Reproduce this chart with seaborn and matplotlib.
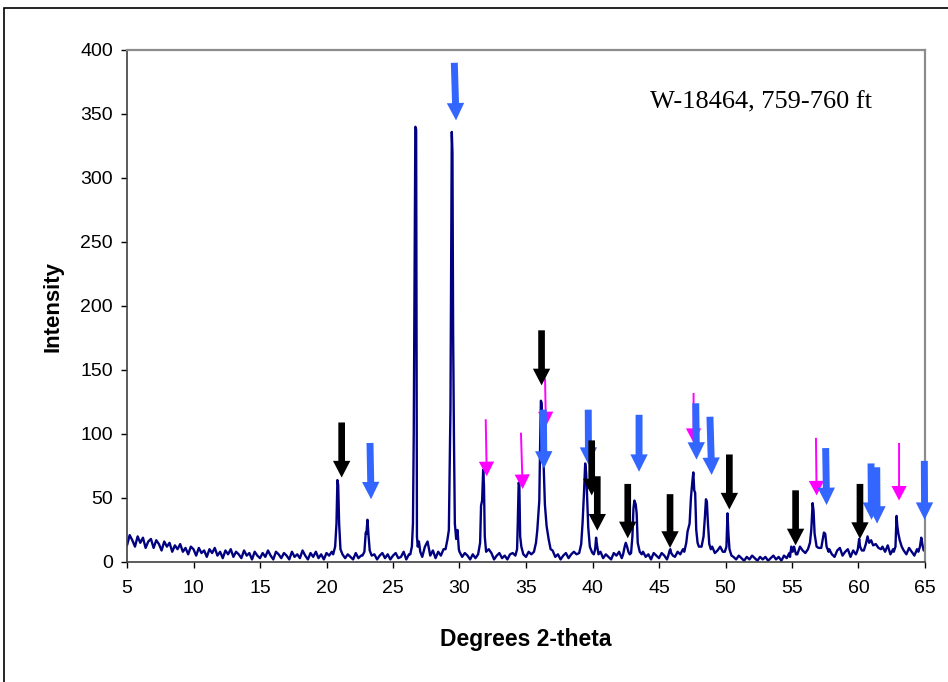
import numpy as np
import matplotlib
matplotlib.use("Agg")
import matplotlib.pyplot as plt
import seaborn as sns
from matplotlib.patches import Rectangle

# ---- diffraction scan -------------------------------------------------------
# background counts, sampled every 0.2 degrees 2-theta from 5 to 65
background_2theta = np.round(np.arange(5.0, 65.0001, 0.2), 1)
background_counts = [
    13, 21, 17, 12, 20, 15, 19, 11, 16, 18,   # 5.0 - 6.8
    11, 17, 14, 9, 16, 12, 15, 8, 13, 10,     # 7.0 - 8.8
    14, 8, 11, 6, 12, 10, 5, 11, 7, 9,        # 9.0 - 10.8
    4, 10, 7, 11, 5, 8, 3, 9, 6, 10,          # 11.0 - 12.8
    4, 8, 6, 3, 9, 5, 7, 2, 8, 5,             # 13.0 - 14.8
    3, 7, 4, 9, 5, 2, 8, 6, 3, 7,             # 15.0 - 16.8
    5, 2, 8, 4, 6, 3, 9, 5, 2, 7,             # 17.0 - 18.8
    4, 8, 3, 6, 2, 7, 5, 8, 6, 8,             # 19.0 - 20.8
    7, 7, 3, 6, 4, 2, 7, 3, 5, 5,             # 21.0 - 22.8
    20, 15, 9, 6, 2, 5, 7, 3, 6, 2,           # 23.0 - 24.8
    5, 7, 3, 4, 8, 2, 6, 8, 10, 20,           # 25.0 - 26.8
    8, 4, 12, 16, 5, 9, 3, 8, 5, 10,          # 27.0 - 28.8
    10, 50, 200, 100, 20, 8, 4, 7, 5, 2,      # 29.0 - 30.8
    6, 3, 7, 5, 40, 40, 10, 7, 2, 5,          # 31.0 - 32.8
    7, 3, 5, 2, 6, 7, 10, 40, 15, 6,          # 33.0 - 34.8
    4, 8, 6, 9, 4, 10, 10, 40, 60, 20,        # 35.0 - 36.8
    9, 4, 6, 2, 5, 7, 3, 6, 8, 6,             # 37.0 - 38.8
    7, 20, 50, 40, 10, 7, 10, 10, 8, 3,       # 39.0 - 40.8
    6, 4, 2, 7, 5, 8, 3, 6, 12, 6,            # 41.0 - 42.8
    20, 40, 40, 20, 8, 4, 6, 2, 7, 5,         # 43.0 - 44.8
    3, 7, 5, 2, 9, 6, 4, 8, 6, 10,            # 45.0 - 46.8
    12, 24, 30, 60, 65, 40, 12, 20, 45, 14,   # 47.0 - 48.8
    12, 7, 9, 12, 8, 38, 10, 6, 4, 2,         # 49.0 - 50.8
    5, 3, 1, 4, 2, 5, 3, 1, 4, 2,             # 51.0 - 52.8
    4, 1, 3, 5, 2, 4, 1, 5, 3, 7,             # 53.0 - 54.8
    10, 8, 6, 12, 9, 7, 13, 40, 30, 14,       # 55.0 - 56.8
    11, 15, 22, 12, 10, 6, 4, 9, 11, 5,       # 57.0 - 58.8
    8, 10, 4, 9, 6, 12, 10, 9, 16, 17,        # 59.0 - 60.8
    15, 14, 13, 12, 12, 8, 13, 6, 10, 12,     # 61.0 - 62.8
    22, 15, 12, 6, 11, 8, 5, 10, 12, 14,      # 63.0 - 64.8
    10,                                       # 65.0
]

# reflections, traced point by point across each peak
peak_2theta = [
    [20.5, 20.65, 20.75, 20.82, 20.88, 20.95, 21.05, 21.2],
    [22.7, 22.85, 22.95, 23.0, 23.08, 23.15, 23.25, 23.4],
    [26.3, 26.42, 26.5, 26.56, 26.62, 26.68, 26.74, 26.8, 26.86, 26.95, 27.05],
    [28.95, 29.1, 29.2, 29.32, 29.42, 29.47, 29.52, 29.58, 29.65, 29.75, 29.85, 29.95],
    [31.4, 31.55, 31.62, 31.7, 31.78, 31.84, 31.9, 32.0],
    [34.2, 34.33, 34.38, 34.45, 34.5, 34.56, 34.65, 34.8],
    [35.6, 35.75, 35.85, 35.95, 36.0, 36.06, 36.12, 36.18, 36.25, 36.32, 36.42, 36.55, 36.7, 36.85],
    [39.0, 39.15, 39.25, 39.36, 39.45, 39.52, 39.58, 39.68, 39.8, 39.95],
    [40.1, 40.2, 40.27, 40.33, 40.45],
    [42.3, 42.42, 42.5, 42.6, 42.7, 42.8],
    [42.9, 43.0, 43.08, 43.15, 43.25, 43.32, 43.4, 43.55, 43.7],
    [45.7, 45.8, 45.85, 45.92, 46.05],
    [46.9, 47.05, 47.15, 47.3, 47.4, 47.5, 47.58, 47.65, 47.72, 47.8, 47.9, 48.0],
    [48.2, 48.35, 48.45, 48.53, 48.6, 48.68, 48.78, 48.9],
    [49.95, 50.07, 50.15, 50.22, 50.3, 50.45],
    [54.85, 54.95, 55.05, 55.15, 55.3],
    [56.2, 56.35, 56.45, 56.55, 56.62, 56.7, 56.85, 57.0],
    [57.2, 57.32, 57.4, 57.5, 57.6, 57.75],
    [59.85, 59.95, 60.05, 60.12, 60.25],
    [60.4, 60.55, 60.68, 60.8, 60.95, 61.1, 61.3, 61.5, 61.7],
    [62.65, 62.78, 62.86, 62.92, 63.0, 63.1, 63.25, 63.4],
    [64.5, 64.62, 64.72, 64.8, 64.9, 65.0],
]
peak_counts = [
    [6, 12, 30, 64, 60, 30, 10, 6],
    [5, 8, 23, 22, 33, 22, 9, 5],
    [6, 12, 30, 100, 220, 340, 338, 20, 12, 16, 8],
    [10, 18, 25, 120, 336, 320, 180, 100, 30, 18, 25, 10],
    [6, 15, 44, 48, 72, 60, 20, 8],
    [5, 10, 30, 62, 60, 20, 12, 6],
    [8, 15, 25, 40, 48, 90, 126, 124, 100, 78, 45, 28, 18, 10],
    [7, 14, 30, 54, 77, 70, 55, 27, 12, 8],
    [6, 10, 19, 14, 6],
    [6, 12, 15, 12, 8, 6],
    [7, 20, 42, 48, 45, 38, 15, 8, 6],
    [5, 9, 10, 7, 5],
    [8, 15, 24, 30, 50, 62, 70, 56, 54, 25, 15, 12],
    [12, 20, 35, 49, 47, 30, 14, 10],
    [8, 12, 38, 22, 10, 5],
    [4, 12, 8, 12, 6],
    [10, 15, 25, 46, 40, 22, 12, 11],
    [11, 18, 23, 22, 12, 8],
    [7, 10, 18, 12, 9],
    [9, 14, 20, 15, 17, 13, 14, 11, 10],
    [8, 12, 36, 28, 22, 17, 12, 9],
    [8, 12, 19, 14, 9, 10],
]

# ---- phase markers (k = black, b = blue, m = magenta) ----------------------
arrow_kind = ["k"] * 9 + ["b"] * 11 + ["m"] * 6
arrow_tail_2theta = [21.14, 36.17, 39.94, 40.36, 42.65, 45.83, 50.29, 55.27, 60.11,
                     23.27, 29.61, 36.30, 39.68, 43.50, 47.76, 48.83, 57.53, 60.94, 61.37, 64.95,
                     31.97, 34.62, 36.43, 47.60, 56.80, 63.05]
arrow_tail_counts = [109, 181, 95, 67, 61, 53, 84, 56, 61,
                     93, 390, 119, 119, 115, 124, 113.5, 89, 77, 74, 79,
                     111.5, 101, 143.5, 132, 97, 93]
arrow_tip_2theta = [21.14, 36.17, 39.94, 40.36, 42.65, 45.83, 50.29, 55.27, 60.11,
                    23.35, 29.74, 36.35, 39.70, 43.50, 47.82, 48.96, 57.60, 60.98, 61.40, 64.97,
                    32.05, 34.75, 36.50, 47.60, 56.85, 63.05]
arrow_tip_counts = [66, 138, 52, 24.5, 18.5, 11, 41, 13, 18,
                    49, 345, 73, 76, 70.5, 80, 68, 44.5, 33, 30, 33,
                    67, 57, 106, 93, 52, 48]

x_ticks = list(range(5, 66, 5))
y_ticks = list(range(0, 401, 50))
sample_label = "W-18464, 759-760 ft"

# ---- assemble the trace ----------------------------------------------------
windows = [(seg[0], seg[-1]) for seg in peak_2theta]
bx = np.asarray(background_2theta)
by = np.asarray(background_counts, dtype=float)
keep = np.ones(len(bx), dtype=bool)
for lo, hi in windows:
    keep &= ~((bx >= lo - 1e-9) & (bx <= hi + 1e-9))
tx = np.concatenate([bx[keep]] + [np.asarray(s, float) for s in peak_2theta])
ty = np.concatenate([by[keep]] + [np.asarray(s, float) for s in peak_counts])
order = np.argsort(tx, kind="stable")
tx, ty = tx[order], ty[order]

# ---- figure ----------------------------------------------------------------
sns.set_style("white")
plt.rcParams["font.family"] = ["Liberation Sans", "DejaVu Sans"]
plt.rcParams.update({"text.color": "black", "axes.labelcolor": "black",
                     "xtick.color": "black", "ytick.color": "black"})

fig = plt.figure(figsize=(9.48, 6.82), dpi=100)
ax = fig.add_axes([127 / 948, 1 - 562 / 682, 798 / 948, 512 / 682])

sns.lineplot(x=tx, y=ty, ax=ax, color="#000080", linewidth=1.7,
             estimator=None, sort=False, zorder=2)

ax.set_xlim(5, 65)
ax.set_ylim(0, 400)
ax.set_xticks(x_ticks)
ax.set_yticks(y_ticks)
ax.tick_params(axis="both", direction="out", length=4, width=1, colors="black",
               labelsize=14, pad=6)
ax.tick_params(axis="x", pad=9)
ax.tick_params(bottom=True, left=True)

for side in ("top", "right"):
    ax.spines[side].set_color("#8c8c8c")
    ax.spines[side].set_linewidth(1.6)
ax.spines["left"].set_color("#404040")
ax.spines["bottom"].set_color("#404040")
ax.spines["left"].set_linewidth(1.2)
ax.spines["bottom"].set_linewidth(1.2)

ax.set_xlabel("Degrees 2-theta", fontsize=16.5, fontweight="bold", labelpad=22,
              color="black")
ax.set_ylabel("Intensity", fontsize=16, fontweight="bold", labelpad=12, color="black")

ax.text(0.655, 0.898, sample_label, transform=ax.transAxes, ha="left", va="center",
        fontsize=19, family=["Liberation Serif", "DejaVu Serif"], color="black")

styles = {
    "k": dict(color="black", head_length=12, head_width=12.5, tail_width=4.8, z=6),
    "b": dict(color="#3366ff", head_length=12.5, head_width=12.5, tail_width=5.0, z=5),
    "m": dict(color="#ff00ff", head_length=10.5, head_width=11, tail_width=1.4, z=4),
}
for kind, x0, y0, x1, y1 in zip(arrow_kind, arrow_tail_2theta, arrow_tail_counts,
                                arrow_tip_2theta, arrow_tip_counts):
    st = styles[kind]
    ax.annotate("", xy=(x1, y1), xytext=(x0, y0), annotation_clip=False,
                zorder=st["z"],
                arrowprops=dict(
                    arrowstyle=f"simple,head_length={st['head_length']},"
                               f"head_width={st['head_width']},tail_width={st['tail_width']}",
                    fc=st["color"], ec="none", shrinkA=0, shrinkB=0,
                    mutation_scale=1))

# chart-area border
fig.patches.append(Rectangle((4 / 948, -0.2), 1.5, 1.2 - 8 / 682,
                             transform=fig.transFigure, fill=False,
                             edgecolor="black", linewidth=1.2))

fig.savefig("out.png", dpi=100, facecolor="white")
